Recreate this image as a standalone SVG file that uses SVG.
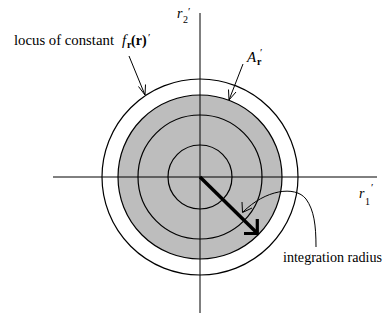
<svg xmlns="http://www.w3.org/2000/svg" width="385" height="327" viewBox="0 0 385 327">
<style>
.t{font-family:"Liberation Serif","Times New Roman",serif;fill:#000}
.ln{fill:none;stroke:#000;stroke-width:1}
.ring{fill:none;stroke:#000;stroke-width:1.2}
</style>
<rect width="385" height="327" fill="#fff"/>
<g id="region-A">
<circle cx="200" cy="177" r="82" fill="#bdbdbd" stroke="#000" stroke-width="1.2"/>
</g>
<g id="locus-outer">
<circle class="ring" cx="200" cy="177" r="98"/>
</g>
<g id="ring-middle">
<circle class="ring" cx="200" cy="177" r="62"/>
</g>
<g id="ring-inner">
<circle class="ring" cx="200" cy="177" r="32"/>
</g>
<g id="axes">
<line class="ln" x1="53" y1="177" x2="377" y2="177"/>
<line class="ln" x1="200" y1="13" x2="200" y2="313"/>
<text class="t" x="177" y="18" font-size="14" font-style="italic">r</text>
<text class="t" x="183" y="23" font-size="10">2</text>
<text class="t" x="188" y="15" font-size="11">′</text>
<text class="t" x="359" y="198" font-size="14" font-style="italic">r</text>
<text class="t" x="365" y="205" font-size="10">1</text>
<text class="t" x="371" y="191" font-size="11">′</text>
</g>
<g id="label-locus">
<text class="t" x="14" y="45" font-size="14" textLength="100" lengthAdjust="spacingAndGlyphs">locus of constant</text>
<text class="t" x="122" y="45" font-size="15" font-style="italic">f</text>
<text class="t" x="127" y="48" font-size="10" font-weight="bold">r</text>
<text class="t" x="131" y="45" font-size="14" font-weight="bold">(r)</text>
<text class="t" x="148" y="41" font-size="11">′</text>
</g>
<g id="label-A">
<text class="t" x="247" y="62" font-size="15" font-style="italic">A</text>
<text class="t" x="257" y="65" font-size="10" font-weight="bold">r</text>
<text class="t" x="260" y="56" font-size="11">′</text>
</g>
<g id="label-integration">
<text class="t" x="283" y="262" font-size="14" textLength="99" lengthAdjust="spacingAndGlyphs">integration radius</text>
</g>
<g id="connectors">
<line class="ln" x1="129" y1="56" x2="145" y2="95"/>
<polyline class="ln" points="138.5,86.5 145,95 145.5,84.5"/>
<line class="ln" x1="243" y1="64" x2="229" y2="100"/>
<polyline class="ln" points="228.5,89.5 229,100 236,92"/>
<path class="ln" d="M243,212 C265,190 295,185 306,199 C314,210 316,225 316,247"/>
<polyline class="ln" points="242,202 242.5,212.5 252,208"/>
<line x1="200" y1="177" x2="256" y2="232" stroke="#000" stroke-width="3.5"/>
<polyline points="244,233.5 257.3,233.5 257.3,219" fill="none" stroke="#000" stroke-width="3.2"/>
</g>
</svg>
